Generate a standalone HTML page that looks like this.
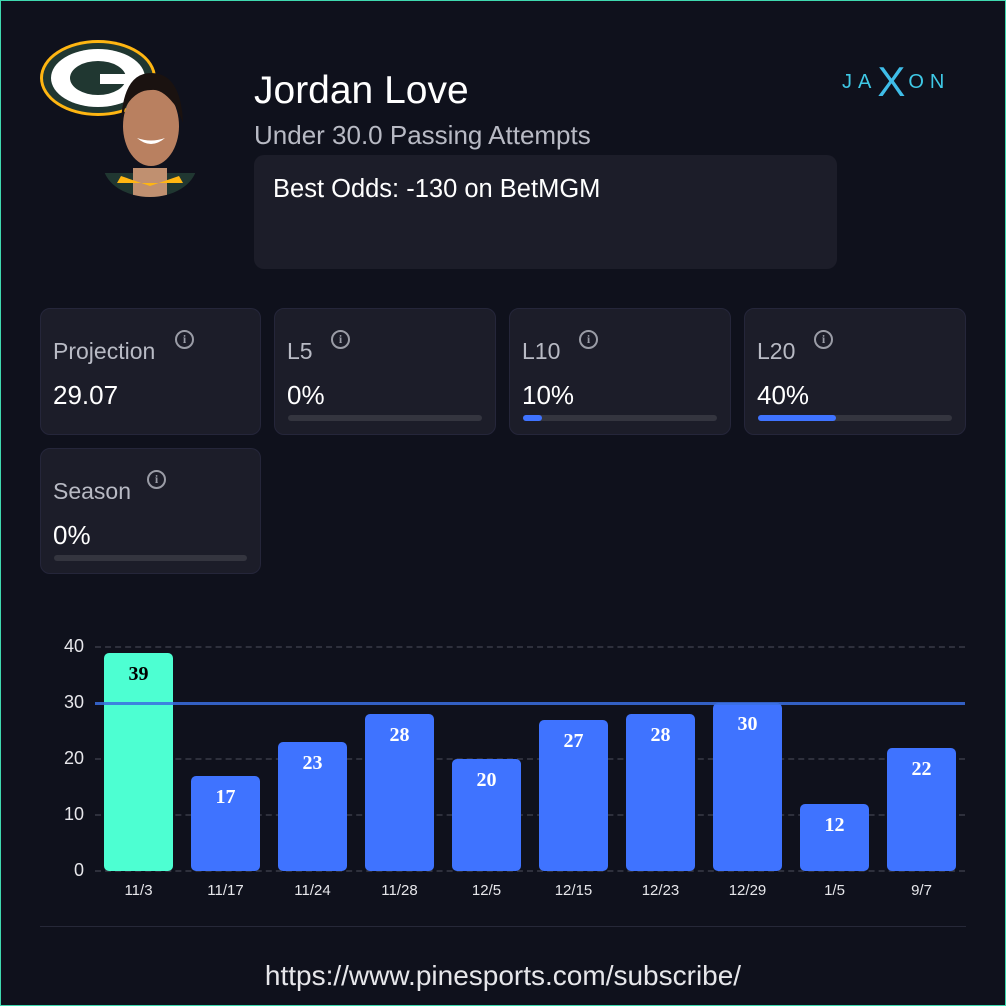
<!DOCTYPE html>
<html><head><style>
*{margin:0;padding:0;box-sizing:border-box}
body{width:1006px;height:1006px;background:#0f111c;position:relative;overflow:hidden;font-family:"Liberation Sans",sans-serif;box-shadow:inset 0 0 0 1px #3fd9b0}
.a{position:absolute}
.card{position:absolute;background:#1c1d29;border:1px solid #25263a;border-radius:10px}
.lbl{position:absolute;left:12px;top:29px;font-size:23px;color:#b8bac4}
.val{position:absolute;left:12px;top:71px;font-size:26px;color:#fff}
.info{position:absolute;top:21px;width:19px;height:19px;border:2px solid #9a9ca6;border-radius:50%;color:#9a9ca6;font-size:12px;font-weight:bold;text-align:center;line-height:15px;font-family:"Liberation Serif",serif}
.trk{position:absolute;left:13px;right:13px;top:106px;height:6px;border-radius:3px;background:#34353f}
.fill{height:6px;border-radius:3px;background:#3f73ff}
.bar{position:absolute;width:69px;background:#3f73ff;border-radius:5px;color:#fff;font:bold 20px "Liberation Serif",serif;text-align:center;padding-top:10px}
.xl{position:absolute;top:882px;width:87px;text-align:center;color:#e6e6ea;font-size:15px}
.yl{position:absolute;left:38px;width:46px;text-align:right;color:#e6e6ea;font-size:18px}
.grid{position:absolute;left:95px;width:870px;border-top:2px dashed #2e303c}
</style></head><body>
<svg class="a" style="left:38px;top:38px" width="122" height="82"><ellipse cx="60" cy="40" rx="58" ry="38" fill="#ffb612"/><ellipse cx="60" cy="40" rx="55" ry="35" fill="#203731"/><ellipse cx="60" cy="40" rx="47" ry="29" fill="#fff"/><ellipse cx="60" cy="40" rx="28" ry="17" fill="#203731"/><rect x="62" y="36" width="30" height="10" fill="#fff"/></svg>
<svg class="a" style="left:103px;top:68px" width="94" height="132"><defs><clipPath id="c"><ellipse cx="47" cy="96" rx="47" ry="33"/><rect x="0" y="0" width="94" height="100"/></clipPath></defs><g clip-path="url(#c)"><rect x="0" y="105" width="94" height="30" fill="#203731"/><rect x="30" y="100" width="34" height="30" fill="#c09070"/><path d="M18 108 L47 118 L76 108 L80 115 L14 115Z" fill="#ffb612"/><ellipse cx="48" cy="58" rx="28" ry="40" fill="#b98060"/><path d="M18 55 Q20 5 48 5 Q78 5 80 55 L74 40 Q60 20 48 22 Q32 22 22 40Z" fill="#1a1210"/><path d="M34 70 Q48 82 62 70 Q48 75 34 70Z" fill="#fff"/></g></svg>
<div class="a" style="left:254px;top:69px;font-size:39px;color:#fff">Jordan Love</div>
<div class="a" style="left:254px;top:120px;font-size:26px;color:#b8bac4">Under 30.0 Passing Attempts</div>
<div class="card" style="left:254px;top:155px;width:583px;height:114px;border:none"><div class="a" style="left:19px;top:20px;font-size:25.5px;color:#fff">Best Odds: -130 on BetMGM</div></div>
<div class="a" style="left:842px;top:50px;font-size:20px;color:#3fc9e6;letter-spacing:6px">JA<span style="font-size:42px;position:relative;top:8px;color:#3fbde8;letter-spacing:3px">X</span>ON</div>

<div class="card" style="left:40px;top:308px;width:221px;height:127px"><div class="lbl">Projection</div><div class="info" style="left:134px">i</div><div class="val">29.07</div></div>
<div class="card" style="left:274px;top:308px;width:222px;height:127px"><div class="lbl">L5</div><div class="info" style="left:56px">i</div><div class="val">0%</div><div class="trk"></div></div>
<div class="card" style="left:509px;top:308px;width:222px;height:127px"><div class="lbl">L10</div><div class="info" style="left:69px">i</div><div class="val">10%</div><div class="trk"><div class="fill" style="width:10%"></div></div></div>
<div class="card" style="left:744px;top:308px;width:222px;height:127px"><div class="lbl">L20</div><div class="info" style="left:69px">i</div><div class="val">40%</div><div class="trk"><div class="fill" style="width:40%"></div></div></div>
<div class="card" style="left:40px;top:448px;width:221px;height:126px"><div class="lbl">Season</div><div class="info" style="left:106px">i</div><div class="val">0%</div><div class="trk"></div></div>

<div class="grid" style="top:646px"></div><div class="grid" style="top:758px"></div><div class="grid" style="top:814px"></div><div class="grid" style="top:870px"></div>
<div class="yl" style="top:636px">40</div><div class="yl" style="top:692px">30</div><div class="yl" style="top:748px">20</div><div class="yl" style="top:804px">10</div><div class="yl" style="top:860px">0</div>
<div class="bar" style="left:104px;top:653px;height:218px;background:#4dffd2;color:#000">39</div>
<div class="bar" style="left:191px;top:776px;height:95px">17</div>
<div class="bar" style="left:278px;top:742px;height:129px">23</div>
<div class="bar" style="left:365px;top:714px;height:157px">28</div>
<div class="bar" style="left:452px;top:759px;height:112px">20</div>
<div class="bar" style="left:539px;top:720px;height:151px">27</div>
<div class="bar" style="left:626px;top:714px;height:157px">28</div>
<div class="bar" style="left:713px;top:703px;height:168px">30</div>
<div class="bar" style="left:800px;top:804px;height:67px">12</div>
<div class="bar" style="left:887px;top:748px;height:123px">22</div>
<div class="a" style="left:95px;top:702px;width:870px;height:3px;background:#3a6ee0;opacity:.85"></div>
<div class="xl" style="left:95px">11/3</div><div class="xl" style="left:182px">11/17</div><div class="xl" style="left:269px">11/24</div><div class="xl" style="left:356px">11/28</div><div class="xl" style="left:443px">12/5</div><div class="xl" style="left:530px">12/15</div><div class="xl" style="left:617px">12/23</div><div class="xl" style="left:704px">12/29</div><div class="xl" style="left:791px">1/5</div><div class="xl" style="left:878px">9/7</div>
<div class="a" style="left:40px;top:926px;width:926px;height:1px;background:#262838"></div>
<div class="a" style="left:0;width:1006px;top:960px;text-align:center;font-size:28px;color:#e6e6ea">https://www.pinesports.com/subscribe/</div>
</body></html>
